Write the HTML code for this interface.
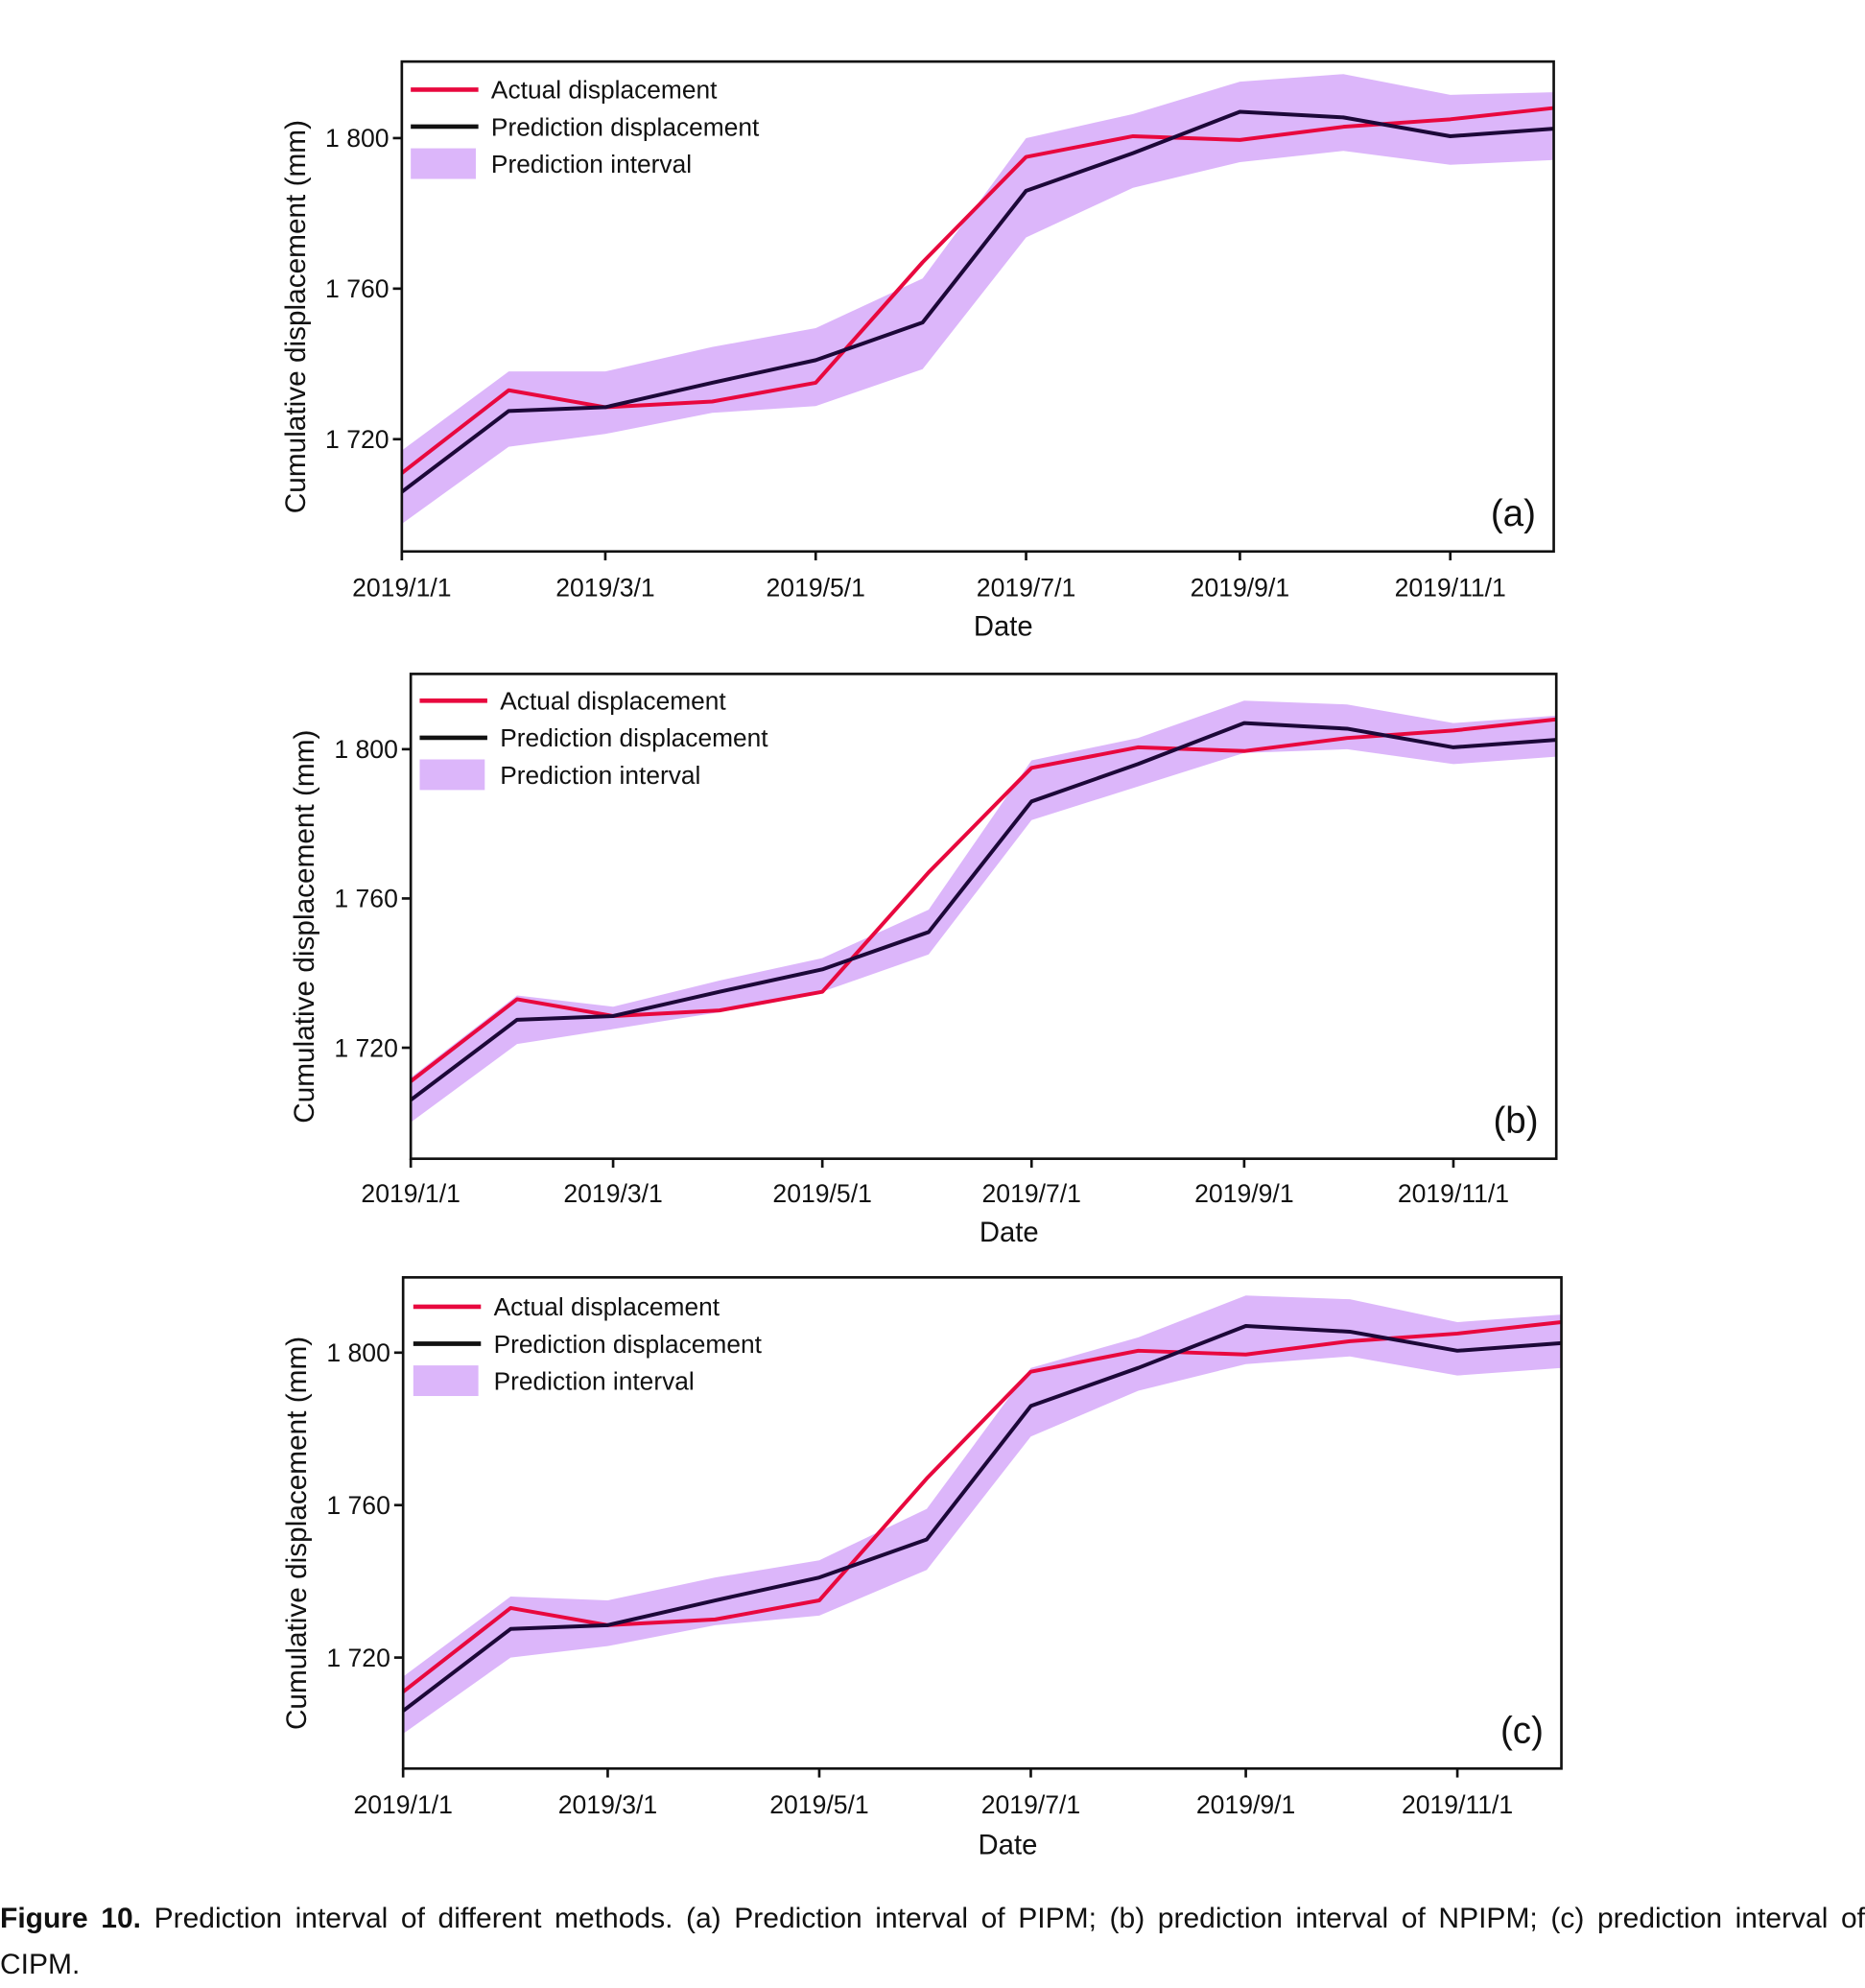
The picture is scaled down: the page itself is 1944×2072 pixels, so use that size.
<!DOCTYPE html>
<html><head><meta charset="utf-8"><style>
html,body{margin:0;padding:0;background:#fff;}
body{position:relative;width:1944px;height:2067px;overflow:hidden;}
svg{display:block;font-family:"Liberation Sans",Arial,sans-serif;}
#cap{position:absolute;left:0;top:1976px;width:1944px;font-family:"Liberation Sans",Arial,sans-serif;font-size:30px;line-height:48px;color:#111;}
#cap .l1{text-align:justify;text-align-last:justify;white-space:nowrap;}
</style></head><body>
<svg id="fig" width="1944" height="2067" viewBox="0 0 1462 1554" xmlns="http://www.w3.org/2000/svg"></svg>
<div id="cap"><div class="l1" style="white-space:normal"><b>Figure 10.</b> Prediction interval of different methods. (a) Prediction interval of PIPM; (b) prediction interval of NPIPM; (c) prediction interval of</div><div>CIPM.</div></div>
<script>
const months = ['Jan','Feb','Mar','Apr','May','Jun','Jul','Aug','Sep','Oct','Nov','Dec'];
const dayOfYear = [0,31,59,90,120,151,181,212,243,273,304,334];
const actual = [1711,1733,1728.5,1730,1735,1767,1795,1800.5,1799.5,1803,1805,1808];
const predicted = [1706,1727.5,1728.5,1735,1741,1751,1786,1796,1807,1805.5,1800.5,1802.5];
const upperA = [1717,1738,1738,1744.5,1749.5,1762.7,1800,1806.4,1815,1817,1811.5,1812.2];
const lowerA = [1697.5,1718,1721.4,1727,1728.8,1738.6,1773.6,1786.8,1793.6,1796.6,1792.9,1794.2];
const upperB = [1712,1734,1731,1738,1744,1757,1797,1803,1813,1812,1807,1809];
const lowerB = [1700,1721,1725,1729.5,1735,1745,1781,1790,1799,1800,1796,1798];
const upperC = [1715,1736,1735,1741,1745.5,1759,1796,1804,1815,1814,1808,1810];
const lowerC = [1700,1720,1723,1728.5,1731,1743,1778,1790,1797,1799,1794,1796];
const yTicks = [1720,1760,1800];
const yTickLabels = ['1 720','1 760','1 800'];
const xTickDays = [0,59,120,181,243,304];
const xTickLabels = ['2019/1/1','2019/3/1','2019/5/1','2019/7/1','2019/9/1','2019/11/1'];

const panels = [
 {id:'a',L:315,R:1218,T:48,B:432,y1720:344,y1800:108,up:upperA,lo:lowerA,lx:322,ly:70,xl:467,dl:498},
 {id:'b',L:322,R:1220,T:528,B:908,y1720:821,y1800:587,up:upperB,lo:lowerB,lx:329,ly:549,xl:942,dl:973},
 {id:'c',L:316,R:1224,T:1001,B:1386,y1720:1299,y1800:1060,up:upperC,lo:lowerC,lx:324,ly:1024,xl:1421,dl:1453}
];
const NS='http://www.w3.org/2000/svg';
const svg=document.getElementById('fig');
function mk(tag,attrs,parent){const e=document.createElementNS(NS,tag);for(const k in attrs)e.setAttribute(k,attrs[k]);(parent||svg).appendChild(e);return e;}
panels.forEach(p=>{
  const g=mk('g',{});
  
  
  const xs=d=>p.L+(d/334)*(p.R-p.L);
  const ys=v=>p.y1720+(v-1720)*(p.y1800-p.y1720)/80;
  let pts=[];
  p.up.forEach((v,i)=>pts.push(xs(dayOfYear[i])+','+ys(v)));
  for(let i=p.lo.length-1;i>=0;i--)pts.push(xs(dayOfYear[i])+','+ys(p.lo[i]));
  const band=mk('polygon',{points:pts.join(' '),fill:'#dcb6fa'},g);
  
  
  const la=mk('polyline',{points:actual.map((v,i)=>xs(dayOfYear[i])+','+ys(v)).join(' '),fill:'none',stroke:'#e8083e','stroke-width':3,'stroke-linejoin':'round'},g);
  
  
  const lp=mk('polyline',{points:predicted.map((v,i)=>xs(dayOfYear[i])+','+ys(v)).join(' '),fill:'none',stroke:'#1c0838','stroke-width':3,'stroke-linejoin':'round'},g);
  
  
  const box=mk('rect',{x:p.L,y:p.T,width:p.R-p.L,height:p.B-p.T,fill:'none',stroke:'#111','stroke-width':2},g);
  
  
  yTicks.forEach((t,i)=>{
    const y=ys(t);
    mk('line',{x1:p.L-7,x2:p.L,y1:y,y2:y,stroke:'#111','stroke-width':2},g);
    const tx=mk('text',{x:p.L-10,y:y+7,'font-size':20,'text-anchor':'end',fill:'#111'},g);
    tx.textContent=yTickLabels[i];
    
    
  });
  xTickDays.forEach((d,i)=>{
    const x=xs(d);
    mk('line',{x1:x,x2:x,y1:p.B,y2:p.B+7,stroke:'#111','stroke-width':2},g);
    const tx=mk('text',{x:x,y:p.xl,'font-size':20,'text-anchor':'middle',fill:'#111'},g);
    tx.textContent=xTickLabels[i];
    
    
  });
  const xt=mk('text',{x:(p.L+p.R)/2+20,y:p.dl,'font-size':22,'text-anchor':'middle',fill:'#111'},g);
  xt.textContent='Date';
  
  
  const cy=(p.T+p.B)/2+8;
  const yt=mk('text',{x:0,y:0,'font-size':22.4,'text-anchor':'middle',fill:'#111',transform:'translate('+(p.L-76)+','+cy+') rotate(-90)'},g);
  yt.textContent='Cumulative displacement (mm)';
  
  
  const pl=mk('text',{x:p.R-14,y:p.B-20,'font-size':29,'text-anchor':'end',fill:'#111'},g);
  pl.textContent='('+p.id+')';
  
  
  const lg=mk('g',{},g);
  
  
  mk('line',{x1:p.lx,x2:p.lx+53,y1:p.ly,y2:p.ly,stroke:'#e8083e','stroke-width':3.5},lg);
  mk('line',{x1:p.lx,x2:p.lx+53,y1:p.ly+29,y2:p.ly+29,stroke:'#111','stroke-width':3.5},lg);
  mk('rect',{x:p.lx,y:p.ly+46,width:51,height:24,fill:'#dcb6fa'},lg);
  const labs=['Actual displacement','Prediction displacement','Prediction interval'];
  labs.forEach((s,i)=>{
    const t=mk('text',{x:p.lx+63,y:p.ly+7+i*29,'font-size':19.8,fill:'#111'},lg);
    t.textContent=s;
    
    
  });
});
</script>
</body></html>
